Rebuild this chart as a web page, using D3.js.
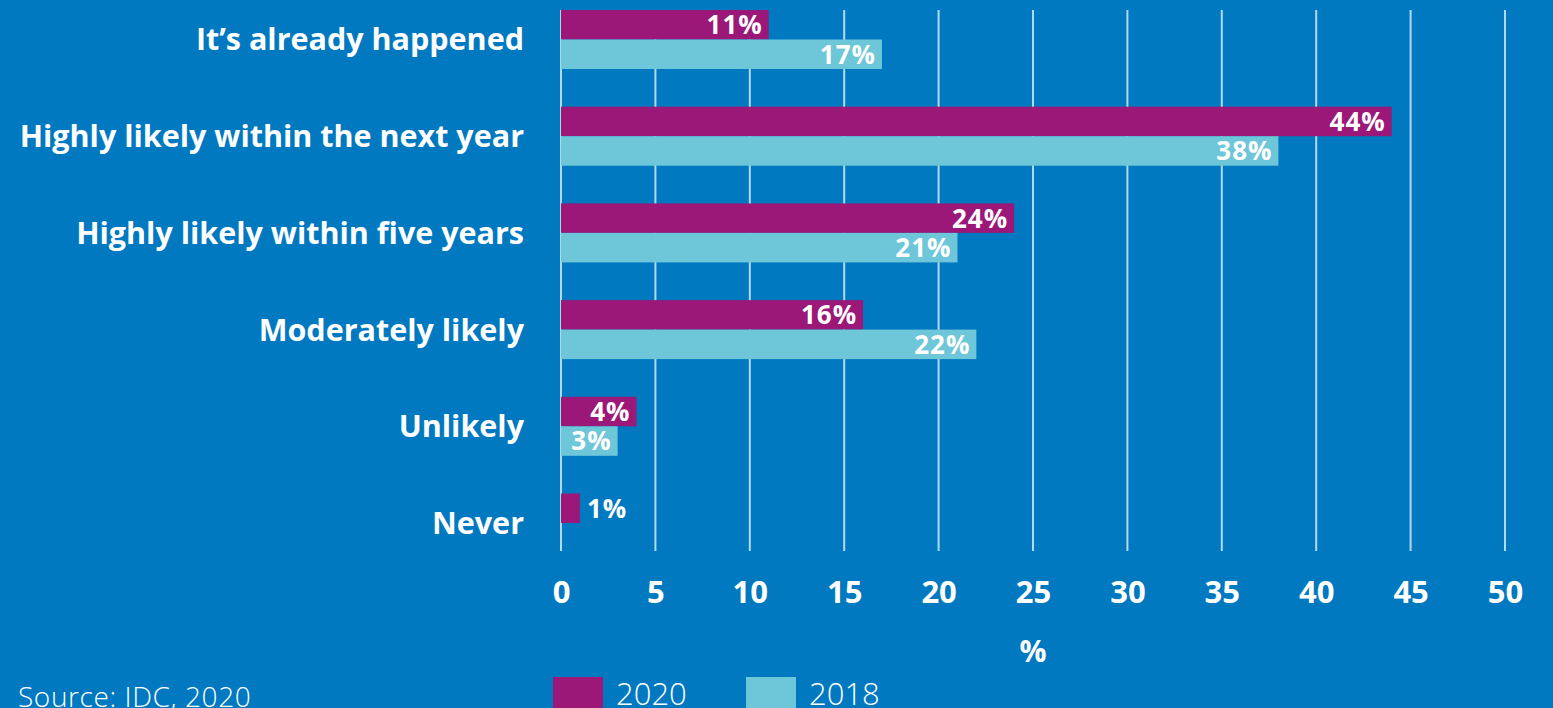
<!DOCTYPE html>
<html>
<head>
<meta charset="utf-8">
<script src="https://cdn.jsdelivr.net/npm/d3@7"></script>
<style>
html,body{margin:0;padding:0;background:#0079C1;overflow:hidden;}
svg{display:block;}
text{font-family:"Open Sans","DejaVu Sans",sans-serif;fill:#fff;}
</style>
</head>
<body>
<svg id="chart" width="1553" height="708"></svg>
<script>
const categories = ["It’s already happened", "Highly likely within the next year", "Highly likely within five years", "Moderately likely", "Unlikely", "Never"];
const values2020 = [11, 44, 24, 16, 4, 1];
const values2018 = [17, 38, 21, 22, 3, null];
const seriesNames = ["2020", "2018"];
const xTicks = [0, 5, 10, 15, 20, 25, 30, 35, 40, 45, 50];
const xLabel = "%";
const sourceText = "Source: IDC, 2020";

const colors = {"2020": "#9B1878", "2018": "#6EC6D9"};
const svg = d3.select("#chart");
const W = 1553, H = 708;
svg.append("rect").attr("width", W).attr("height", H).attr("fill", "#0079C1");

const x = d3.scaleLinear().domain([0, 50]).range([561, 1505]);
const y = d3.scalePoint().domain(categories).range([39.5, 523]);
const barH = 29.5;

// gridlines
svg.append("g").selectAll("line").data(xTicks).join("line")
  .attr("x1", d => x(d)).attr("x2", d => x(d))
  .attr("y1", 10).attr("y2", 551)
  .attr("stroke", "#b3d9f0").attr("stroke-width", 2);

// x axis labels
const xAxis = d3.axisBottom(x).tickValues(xTicks).tickSize(0).tickPadding(0);
const ax = svg.append("g").attr("transform", "translate(0,603)").call(xAxis);
ax.select(".domain").remove();
ax.selectAll("text").attr("fill", "#fff").attr("font-size", 31).attr("font-weight", 700)
  .attr("font-family", "'Open Sans', sans-serif").attr("dy", 0).attr("y", 0);

svg.append("text").attr("x", x(25)).attr("y", 662).attr("text-anchor", "middle")
  .attr("font-size", 30).attr("font-weight", 700).text(xLabel);

// category labels
svg.append("g").selectAll("text").data(categories).join("text")
  .attr("x", 524).attr("y", d => y(d)).attr("dy", "0.36em")
  .attr("text-anchor", "end").attr("font-size", 30.5).attr("font-weight", 700)
  .text(d => d);

// bars
const rows = [];
categories.forEach((c, i) => {
  rows.push({cat: c, s: "2020", v: values2020[i], off: -barH});
  if (values2018[i] != null) rows.push({cat: c, s: "2018", v: values2018[i], off: 0});
});
const g = svg.append("g");
g.selectAll("rect").data(rows).join("rect")
  .attr("x", x(0)).attr("y", d => y(d.cat) + d.off)
  .attr("width", d => x(d.v) - x(0)).attr("height", barH)
  .attr("fill", d => colors[d.s]);

g.selectAll("text").data(rows).join("text")
  .attr("x", d => d.v <= 2 ? x(d.v) + 7 : x(d.v) - 6)
  .attr("y", d => y(d.cat) + d.off + barH / 2).attr("dy", "0.36em")
  .attr("text-anchor", d => d.v <= 2 ? "start" : "end")
  .attr("font-size", 26).attr("font-weight", 700).attr("letter-spacing", 1)
  .text(d => d.v + "%");

// legend
const leg = svg.append("g");
const legX = [553, 746];
seriesNames.forEach((s, i) => {
  leg.append("rect").attr("x", legX[i]).attr("y", 677).attr("width", 50).attr("height", 40).attr("fill", colors[s]);
  leg.append("text").attr("x", legX[i] + 63).attr("y", 705).attr("font-size", 31).attr("font-weight", 300)
    .text(s);
});

svg.append("text").attr("x", 18).attr("y", 707).attr("font-size", 28).attr("font-weight", 300)
  .attr("letter-spacing", 0.6).text(sourceText);
</script>
</body>
</html>
